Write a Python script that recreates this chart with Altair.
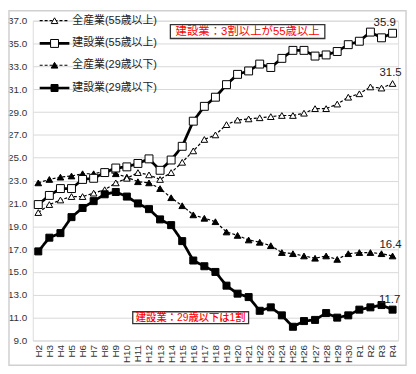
import altair as alt
import pandas as pd

years = ["H2", "H3", "H4", "H5", "H6", "H7", "H8", "H9", "H10", "H11", "H12", "H13",
         "H14", "H15", "H16", "H17", "H18", "H19", "H20", "H21", "H22", "H23", "H24",
         "H25", "H26", "H27", "H28", "H29", "H30", "R1", "R2", "R3", "R4"]

all55 = [20.2, 20.9, 21.3, 21.6, 21.6, 21.9, 22.2, 22.8, 23.2, 23.7, 23.5, 23.1, 23.7,
         24.6, 25.6, 26.6, 27.0, 27.9, 28.3, 28.4, 28.5, 28.6, 28.7, 28.7, 28.9, 29.3,
         29.3, 29.7, 30.3, 30.6, 31.2, 31.1, 31.5]
con55 = [20.9, 21.7, 22.3, 22.3, 23.1, 23.2, 23.7, 24.1, 24.2, 24.5, 24.9, 23.9, 24.8,
         26.0, 28.2, 29.5, 30.3, 31.4, 32.3, 32.6, 33.2, 32.9, 33.7, 34.4, 34.4, 33.9,
         34.0, 34.3, 34.9, 35.2, 36.0, 35.5, 35.9]
all29 = [22.8, 23.1, 23.3, 23.4, 23.6, 23.6, 23.8, 23.6, 23.3, 22.9, 22.8, 22.3, 21.5,
         20.8, 20.0, 19.7, 19.4, 18.5, 18.2, 17.8, 17.6, 17.3, 16.7, 16.6, 16.4, 16.2,
         16.4, 16.1, 16.6, 16.7, 16.7, 16.6, 16.4]
con29 = [16.8, 18.0, 18.4, 19.8, 20.6, 21.2, 21.8, 22.0, 21.6, 21.0, 20.5, 19.6, 19.1,
         17.7, 16.0, 15.5, 15.0, 13.8, 13.1, 12.8, 11.6, 11.9, 11.2, 10.2, 10.7, 10.8,
         11.4, 11.0, 11.2, 11.7, 11.9, 12.1, 11.7]

names = ["全産業(55歳以上)", "建設業(55歳以上)", "全産業(29歳以下)", "建設業(29歳以下)"]
series_vals = [all55, con55, all29, con29]
note_top = "建設業：3割以上が55歳以上"
note_bottom = "建設業：29歳以下は1割"

rows = []
for name, vals in zip(names, series_vals):
    for yr, v in zip(years, vals):
        rows.append({"year": yr, "series": name, "value": v})
df = pd.DataFrame(rows)
one = pd.DataFrame({"k": [0]})

FONT = "Liberation Sans, Noto Sans CJK JP"

x_enc = alt.X("year:O", sort=years,
              scale=alt.Scale(type="point", padding=0.5),
              axis=alt.Axis(title=None, labelAngle=270, domain=False, ticks=False,
                            grid=False, labelPadding=4, labelFontSize=10,
                            labelColor="#333", labelFont=FONT))
y_enc = alt.Y("value:Q", scale=alt.Scale(domain=[9, 37], nice=False, zero=False),
              axis=alt.Axis(title=None, values=list(range(9, 38, 2)), format=".1f",
                            domain=False, ticks=False, grid=True, gridColor="#d9d9d9",
                            gridWidth=1, labelPadding=6, labelFontSize=10,
                            labelColor="#333", labelFont=FONT))

styles = {
    names[0]: dict(dash=[3, 2], shape="triangle-up", filled=False, sw=1.2, size=45),
    names[1]: dict(dash=[1, 0], shape="square", filled=False, sw=2.75, size=64),
    names[2]: dict(dash=[3, 2], shape="triangle-up", filled=True, sw=1.2, size=45),
    names[3]: dict(dash=[1, 0], shape="square", filled=True, sw=2.75, size=50),
}
label_offsets = {names[0]: (-2, -11), names[1]: (-8, -10),
                 names[2]: (-2, -11), names[3]: (-3, -10)}
legend_y = [0, 23, 45, 68]

layers = []

layers.append(alt.Chart(one).mark_rect(fillOpacity=0, stroke="#d0d0d0", strokeWidth=1.5)
              .encode(x=alt.value(-24), x2=alt.value(377), y=alt.value(-10), y2=alt.value(348)))

draw_order = [names[2], names[0], names[3], names[1]]
for name in draw_order:
    st = styles[name]
    base = alt.Chart(df).transform_filter(alt.datum.series == name)
    layers.append(base.mark_line(color="black", strokeWidth=st["sw"],
                                 strokeDash=st["dash"]).encode(x=x_enc, y=y_enc))
    layers.append(base.mark_point(shape=st["shape"], size=st["size"], filled=True,
                                  fill="black" if st["filled"] else "white",
                                  stroke="black", strokeWidth=1, opacity=1)
                  .encode(x=x_enc, y=y_enc))

for name in names:
    dx, dy = label_offsets[name]
    layers.append(alt.Chart(df).transform_filter(
        (alt.datum.series == name) & (alt.datum.year == years[-1]))
        .mark_text(dx=dx, dy=dy, fontSize=11.5, color="#222", font=FONT)
        .encode(x=x_enc, y=y_enc, text=alt.Text("value:Q", format=".1f")))

for i, name in enumerate(names):
    st = styles[name]
    ly = legend_y[i]
    layers.append(alt.Chart(one).mark_rule(color="black", strokeWidth=st["sw"],
                                           strokeDash=st["dash"])
                  .encode(x=alt.value(7), x2=alt.value(37), y=alt.value(ly)))
    layers.append(alt.Chart(one).mark_point(shape=st["shape"], size=st["size"], filled=True,
                                            fill="black" if st["filled"] else "white",
                                            stroke="black", strokeWidth=1, opacity=1)
                  .encode(x=alt.value(22), y=alt.value(ly)))
    layers.append(alt.Chart(one).mark_text(align="left", baseline="middle", fontSize=11,
                                           color="#222", font=FONT)
                  .encode(x=alt.value(40), y=alt.value(ly), text=alt.value(name)))

layers.append(alt.Chart(one).mark_rect(fill="white", stroke="#333", strokeWidth=1.3)
              .encode(x=alt.value(139), x2=alt.value(295), y=alt.value(4), y2=alt.value(18)))
layers.append(alt.Chart(one).mark_text(align="center", baseline="middle", fontSize=11.5,
                                       color="#ff0000", font=FONT)
              .encode(x=alt.value(217), y=alt.value(11.5), text=alt.value(note_top)))
layers.append(alt.Chart(one).mark_rect(fill="white", stroke="#333", strokeWidth=1.3)
              .encode(x=alt.value(101), x2=alt.value(218), y=alt.value(294), y2=alt.value(306)))
layers.append(alt.Chart(one).mark_text(align="center", baseline="middle", fontSize=10.4,
                                       fontWeight=500, color="#ff0000", font=FONT)
              .encode(x=alt.value(159.5), y=alt.value(300.5), text=alt.value(note_bottom)))

chart = (alt.layer(*layers)
         .properties(width=369, height=323,
                     autosize=alt.AutoSizeParams(type="none"),
                     padding={"left": 25, "top": 11, "right": 10, "bottom": 27})
         .configure_view(stroke=None)
         .configure(background="white"))

chart.save("out.html", embed_options={"renderer": "svg", "actions": False})
